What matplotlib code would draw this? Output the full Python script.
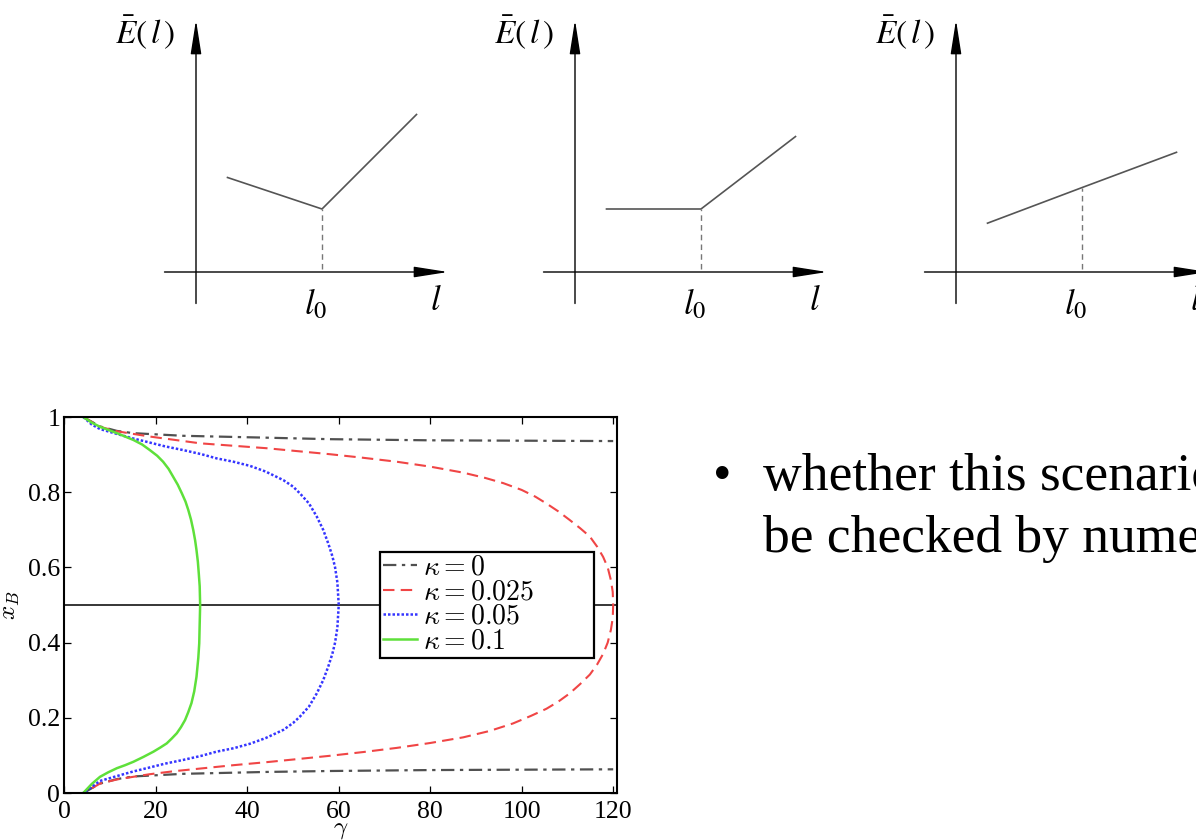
import numpy as np
import matplotlib
matplotlib.use("Agg")
import matplotlib.pyplot as plt

plt.rcParams['font.family'] = ['Liberation Serif', 'DejaVu Serif']
plt.rcParams['mathtext.fontset'] = 'cm'

# ---- sketch data: three piecewise linear energy curves around l0 ----
l0 = 4.0
sketch_l = [[1.0, 4.0, 7.0], [1.0, 4.0, 7.0], [1.0, 4.0, 7.0]]
sketch_E = [[3.0, 2.0, 5.0], [2.0, 2.0, 4.3], [1.55, 2.68, 3.8]]
sketch_origin_px = [196, 575, 956]   # x pixel of each sketch's origin

# ---- bifurcation curves x_B(gamma) ----
kappa_labels = [r'$\kappa = 0$', r'$\kappa = 0.025$', r'$\kappa = 0.05$', r'$\kappa = 0.1$']

k0_g = [4.15, 7.8, 11.5, 15.1, 26.0, 44.2, 58.1, 80.0, 120.0]
k0_up_x = [1.0, 0.975, 0.963, 0.957, 0.950, 0.945, 0.941, 0.938, 0.936]
k0_lo_x = [0.0, 0.025, 0.037, 0.044, 0.051, 0.056, 0.0585, 0.061, 0.063]

k025_g = [4.15, 7.8, 11.5, 18.7, 29.7, 44.2, 58.1, 65.0, 72.7, 80.0, 87.2, 92.0, 96.0,
          100.0, 103.0, 105.4, 108.0, 110.5, 112.8, 114.9, 116.5, 117.8, 118.8, 119.5, 119.9, 120.0,
          119.9, 119.5, 118.8, 117.8, 116.5, 114.9, 112.8, 110.5, 108.0, 105.4, 102.0, 98.1,
          93.0, 87.2, 80.0, 72.7, 65.4, 58.1, 50.0, 44.2, 37.0, 29.7, 24.0, 18.7, 14.0, 11.5,
          7.8, 4.15]
k025_x = [1.0, 0.974, 0.962, 0.948, 0.930, 0.917, 0.901, 0.892, 0.881, 0.868, 0.852, 0.838, 0.824,
          0.806, 0.788, 0.770, 0.749, 0.726, 0.704, 0.682, 0.655, 0.628, 0.600, 0.566, 0.535, 0.50,
          0.465, 0.434, 0.400, 0.370, 0.342, 0.315, 0.290, 0.265, 0.243, 0.224, 0.205, 0.185,
          0.165, 0.148, 0.133, 0.120, 0.109, 0.099, 0.089, 0.082, 0.074, 0.065, 0.058, 0.050, 0.041, 0.036,
          0.025, 0.0]

k05_g = [4.15, 6.0, 7.8, 11.5, 15.0, 18.7, 22.0, 26.0, 30.0, 33.3, 37.0, 40.6, 44.0, 47.9, 50.0,
         51.5, 53.5, 55.2, 56.6, 57.7, 58.6, 59.2, 59.7, 60.0,
         59.7, 59.2, 58.6, 57.7, 56.6, 55.2, 53.5, 51.5, 50.0, 47.9, 44.0, 40.6, 37.0, 33.3,
         30.0, 26.0, 22.0, 18.7, 15.0, 11.5, 7.8, 4.15]
k05_x = [1.0, 0.98, 0.968, 0.955, 0.943, 0.932, 0.922, 0.912, 0.901, 0.890, 0.881, 0.870, 0.855, 0.832, 0.815,
         0.797, 0.770, 0.735, 0.700, 0.664, 0.630, 0.600, 0.560, 0.50,
         0.44, 0.40, 0.37, 0.336, 0.300, 0.265, 0.230, 0.203, 0.186, 0.168, 0.146, 0.131, 0.119, 0.110,
         0.099, 0.088, 0.078, 0.068, 0.057, 0.045, 0.032, 0.0]

k1_g = [4.15, 6.0, 7.8, 11.5, 15.1, 17.0, 18.7, 20.3, 21.6, 22.8, 23.8, 24.8, 25.7, 26.5, 27.1,
        27.7, 28.2, 28.6, 28.9, 29.2, 29.4, 29.6, 29.7,
        29.6, 29.5, 29.3, 28.9, 28.4, 27.8, 27.1, 26.4, 25.5, 24.6, 23.5, 22.4, 21.0, 19.5,
        17.3, 15.1, 13.3, 11.5, 9.6, 7.8, 6.0, 4.15]
k1_x = [1.0, 0.985, 0.974, 0.957, 0.939, 0.927, 0.912, 0.897, 0.881, 0.862, 0.841, 0.820, 0.797, 0.775, 0.753,
        0.727, 0.699, 0.672, 0.646, 0.615, 0.584, 0.550, 0.50,
        0.45, 0.398, 0.360, 0.309, 0.270, 0.239, 0.215, 0.194, 0.175, 0.159, 0.145, 0.132, 0.121, 0.110,
        0.096, 0.083, 0.074, 0.066, 0.055, 0.043, 0.024, 0.0]

W, H = 1196, 840
fig = plt.figure(figsize=(W / 100, H / 100), dpi=100)

# ---- the three sketches ----
unit = 31.5
for ox, ls, Es in zip(sketch_origin_px, sketch_l, sketch_E):
    left_px = ox - 2.5 * unit
    bottom_px = 272 + 1.5 * unit
    sk = fig.add_axes([left_px / W, (H - bottom_px) / H, 11 * unit / W, 10 * unit / H])
    sk.set_xlim(-2.5, 8.5)
    sk.set_ylim(-1.5, 8.5)
    sk.axis('off')
    arrow = dict(arrowstyle='-|>,head_length=1.4,head_width=0.22', color='black',
                 lw=1.0, mutation_scale=15, shrinkA=0, shrinkB=0)
    sk.annotate('', xy=(8.0, 0), xytext=(-1.0, 0), arrowprops=arrow, annotation_clip=False)
    sk.annotate('', xy=(0, 8.0), xytext=(0, -1.0), arrowprops=arrow, annotation_clip=False)
    sk.plot(ls, Es, color='#555555', lw=1.2, clip_on=False)
    E0 = Es[ls.index(l0)]
    sk.plot([l0, l0], [0.1, E0], color='#777777', lw=1.0, ls=(0, (4, 3)), clip_on=False)
    sk.text(-1.6, 7.6, r'$\bar{E}(\,l\,)$', fontsize=24, ha='center', va='center',
            math_fontfamily='stix')
    sk.text(l0 - 0.2, -1.05, r'$l_0$', fontsize=25, ha='center', va='center',
            math_fontfamily='stix')
    sk.text(7.62, -0.95, r'$l$', fontsize=25, ha='center', va='center',
            math_fontfamily='stix', clip_on=False)

# ---- bifurcation diagram ----
ax = fig.add_axes([64.3 / W, 47 / H, 553 / W, 376 / H])
ax.axhline(0.5, color='black', lw=1.1)
dashdot = (0, (6, 2.5, 1.5, 2.5))
ax.plot(k0_g, k0_up_x, color='#505050', lw=1.6, ls=dashdot, label=kappa_labels[0])
ax.plot(k0_g, k0_lo_x, color='#505050', lw=1.6, ls=dashdot)
ax.plot(k025_g, k025_x, color='#f04545', lw=1.5, ls=(0, (5.5, 3)), label=kappa_labels[1])
ax.plot(k05_g, k05_x, color='#3535ff', lw=1.8, ls=(0, (1, 0.8)), label=kappa_labels[2])
ax.plot(k1_g, k1_x, color='#5ee03a', lw=1.8, label=kappa_labels[3])

ax.set_xlim(0, 120.9)
ax.set_ylim(0, 1)
ax.set_xticks(np.arange(0, 121, 20))
ax.set_xticklabels([str(v) for v in range(0, 121, 20)])
ax.set_yticks([0, 0.2, 0.4, 0.6, 0.8, 1])
ax.set_yticklabels(['0', '0.2', '0.4', '0.6', '0.8', '1'])
ax.tick_params(direction='in', top=True, right=True, length=5, width=0.9, labelsize=18.5)
ax.tick_params(axis='x', pad=6)
ax.tick_params(axis='y', pad=3)
for s in ax.spines.values():
    s.set_linewidth(1.5)
ax.set_xlabel(r'$\gamma$', fontsize=18, labelpad=-3)
ax.set_ylabel(r'$x_B$', fontsize=18, labelpad=4)

leg = ax.legend(loc='upper left', bbox_to_anchor=(0.571, 0.0, 0.387, 0.641), mode='expand',
                fontsize=20, frameon=True, fancybox=False, edgecolor='black', framealpha=1,
                handlelength=1.22, handletextpad=0.2, labelspacing=-0.03, borderpad=0.12,
                borderaxespad=0)
leg.get_frame().set_linewidth(1.6)

# ---- bullet text ----
fig.text(722 / W, 1 - 490 / H, '\u2022', fontsize=38, ha='center', va='baseline')
fig.text(763 / W, 1 - 490 / H, 'whether this scenario', fontsize=38.5, ha='left', va='baseline')
fig.text(763 / W, 1 - 552 / H, 'be checked by numerical', fontsize=38.5, ha='left', va='baseline')

fig.savefig('out.png', dpi=100, facecolor='white')
